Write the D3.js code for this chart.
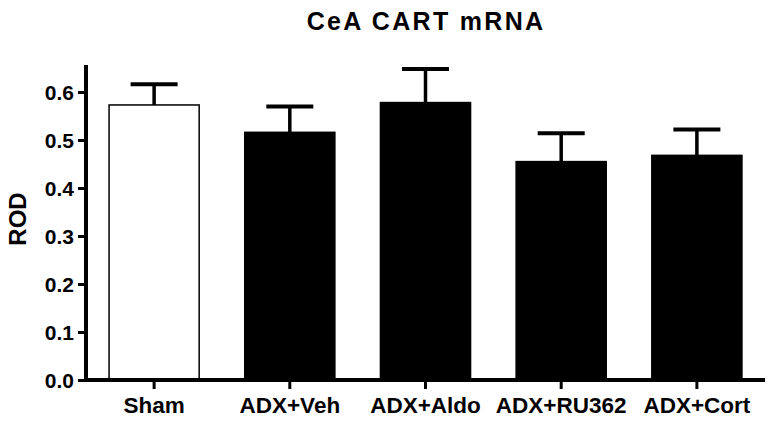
<!DOCTYPE html>
<html>
<head>
<meta charset="utf-8">
<script src="https://cdn.jsdelivr.net/npm/d3@7"></script>
<style>
  body { margin: 0; background: #fff; }
  text { font-family: Arial, "Liberation Sans", sans-serif; font-weight: bold; fill: #000; }
</style>
</head>
<body>
<svg id="chart"></svg>
<script>
const width = 773;
const height = 424;

// Values
const groups = ["Sham", "ADX+Veh", "ADX+Aldo", "ADX+RU362", "ADX+Cort"];
const means = [0.573, 0.516, 0.578, 0.455, 0.468];
const sems = [0.043, 0.054, 0.070, 0.059, 0.054];
const fills = ["#fff", "#000", "#000", "#000", "#000"];
const yTicks = [0.0, 0.1, 0.2, 0.3, 0.4, 0.5, 0.6];

const svg = d3.select("#chart")
    .attr("width", width)
    .attr("height", height);

const x = d3.scaleBand()
    .domain(groups)
    .range([86, 765])
    .paddingInner(0.336)
    .paddingOuter(0.17);

const y = d3.scaleLinear()
    .domain([0, 0.6])
    .range([380, 92]);

// Title
svg.append("text")
    .attr("x", 426)
    .attr("y", 30)
    .attr("text-anchor", "middle")
    .style("font-size", "25px")
    .style("letter-spacing", "2.3px")
    .text("CeA CART mRNA");

// Y axis label
svg.append("text")
    .attr("transform", "translate(26,219) rotate(-90)")
    .attr("text-anchor", "middle")
    .style("font-size", "24px")
    .text("ROD");

// Bars
svg.selectAll("rect.bar")
    .data(groups)
    .join("rect")
    .attr("class", "bar")
    .attr("x", d => x(d))
    .attr("width", x.bandwidth())
    .attr("y", (d, i) => y(means[i]))
    .attr("height", (d, i) => y(0) - y(means[i]))
    .attr("fill", (d, i) => fills[i])
    .attr("stroke", "#000")
    .attr("stroke-width", 1.5);

// Error bars (upper only)
const err = svg.append("g").attr("stroke", "#000");
err.selectAll("line.stem")
    .data(groups)
    .join("line")
    .attr("class", "stem")
    .attr("x1", d => x(d) + x.bandwidth() / 2)
    .attr("x2", d => x(d) + x.bandwidth() / 2)
    .attr("y1", (d, i) => y(means[i]))
    .attr("y2", (d, i) => y(means[i] + sems[i]))
    .attr("stroke-width", 3.5);
err.selectAll("line.cap")
    .data(groups)
    .join("line")
    .attr("class", "cap")
    .attr("x1", d => x(d) + x.bandwidth() / 2 - 23.5)
    .attr("x2", d => x(d) + x.bandwidth() / 2 + 23.5)
    .attr("y1", (d, i) => y(means[i] + sems[i]))
    .attr("y2", (d, i) => y(means[i] + sems[i]))
    .attr("stroke-width", 4);

// Y axis
const yAxis = svg.append("g")
    .attr("transform", "translate(86,0)")
    .call(d3.axisLeft(y).tickValues(yTicks).tickFormat(d3.format(".1f")).tickSize(8).tickPadding(4));
yAxis.select(".domain").remove();
yAxis.selectAll(".tick line").attr("stroke", "#000").attr("stroke-width", 3);
yAxis.selectAll(".tick text")
    .style("font-size", "21px")
    .style("font-family", "Arial, 'Liberation Sans', sans-serif")
    .attr("dy", "0.36em");
svg.append("line")
    .attr("x1", 86).attr("x2", 86)
    .attr("y1", 65).attr("y2", 382)
    .attr("stroke", "#000").attr("stroke-width", 4);

// X axis
const xAxis = svg.append("g")
    .attr("transform", "translate(0,380)")
    .call(d3.axisBottom(x).tickSize(9).tickPadding(8));
xAxis.select(".domain").remove();
xAxis.selectAll(".tick line").attr("stroke", "#000").attr("stroke-width", 3);
xAxis.selectAll(".tick text")
    .style("font-size", "22.5px")
    .style("font-family", "Arial, 'Liberation Sans', sans-serif");
svg.append("line")
    .attr("x1", 84).attr("x2", 765)
    .attr("y1", 380).attr("y2", 380)
    .attr("stroke", "#000").attr("stroke-width", 4);
</script>
</body>
</html>
